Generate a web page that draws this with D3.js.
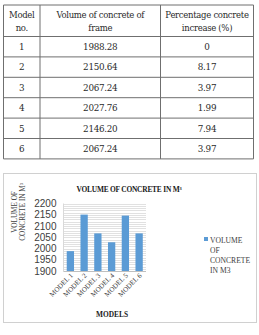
<!DOCTYPE html>
<html>
<head>
<meta charset="utf-8">
<script src="https://cdn.jsdelivr.net/npm/d3@7"></script>
<style>
  body { margin: 0; background: #fff; }
  svg { display: block; }
</style>
</head>
<body>
<div id="chart"></div>
<script>
// Table / chart data
var models = ["1", "2", "3", "4", "5", "6"];
var volumes = [1988.28, 2150.64, 2067.24, 2027.76, 2146.20, 2067.24];
var volumeText = ["1988.28", "2150.64", "2067.24", "2027.76", "2146.20", "2067.24"];
var increases = ["0", "8.17", "3.97", "1.99", "7.94", "3.97"];
var headers = [["Model", "no."], ["Volume of concrete of", "frame"], ["Percentage concrete", "increase (%)"]];
var xLabels = ["MODEL 1", "MODEL 2", "MODEL 3", "MODEL 4", "MODEL 5", "MODEL 6"];
var yTicks = [1900, 1950, 2000, 2050, 2100, 2150, 2200];
var legendLines = ["VOLUME", "OF", "CONCRETE", "IN M3"];

var svgWidth = 259;
var svgHeight = 335;

var svg = d3.select("#chart")
  .append("svg")
  .attr("width", svgWidth)
  .attr("height", svgHeight);

svg.append("rect")
  .attr("width", svgWidth)
  .attr("height", svgHeight)
  .attr("fill", "#fff");

// ---------------------------------------- //
// TABLE
var colX = [3.5, 40, 160.5, 253.5];
var tableTop = 5;
var headerH = 31.5;
var rowH = 20.4;
var tableBottom = tableTop + headerH + rowH * models.length;
var serif = "'Liberation Serif', 'Times New Roman', serif";
var tableFont = "'DejaVu Serif', serif";
var lineColor = "#6f6f6f";

var table = svg.append("g");

// horizontal lines
var rowLines = [tableTop, tableTop + headerH];
models.forEach((m, i) => rowLines.push(tableTop + headerH + rowH * (i + 1)));
table.selectAll(".hline")
  .data(rowLines)
  .enter()
  .append("line")
  .attr("x1", colX[0])
  .attr("x2", colX[3])
  .attr("y1", d => d)
  .attr("y2", d => d)
  .attr("stroke", lineColor)
  .attr("stroke-width", 1);

// vertical lines
table.selectAll(".vline")
  .data(colX)
  .enter()
  .append("line")
  .attr("x1", d => d)
  .attr("x2", d => d)
  .attr("y1", tableTop)
  .attr("y2", tableBottom)
  .attr("stroke", lineColor)
  .attr("stroke-width", 1);

// header text
headers.forEach((lines, c) => {
  var cx = (colX[c] + colX[c + 1]) / 2;
  lines.forEach((t, k) => {
    table.append("text")
      .attr("x", cx)
      .attr("y", tableTop + 13 + k * 13)
      .attr("text-anchor", "middle")
      .attr("font-family", tableFont)
      .attr("font-size", "8.5px")
      .attr("letter-spacing", "-0.3px")
      .attr("fill", "#2b2b2b")
      .text(t);
  });
});

// body rows
models.forEach((m, i) => {
  var y = tableTop + headerH + rowH * i + rowH / 2 + 3.3;
  var cells = [m, volumeText[i], increases[i]];
  cells.forEach((t, c) => {
    table.append("text")
      .attr("x", (colX[c] + colX[c + 1]) / 2)
      .attr("y", y)
      .attr("text-anchor", "middle")
      .attr("font-family", tableFont)
      .attr("font-size", "8.8px")
      .attr("letter-spacing", "-0.3px")
      .attr("fill", "#2b2b2b")
      .text(t);
  });
});

// ---------------------------------------- //
// CHART
svg.append("rect")
  .attr("x", 3.5)
  .attr("y", 173.5)
  .attr("width", 253)
  .attr("height", 149)
  .attr("fill", "#fff")
  .attr("stroke", "#d0d0d0");

var plot = { left: 63.5, right: 146, top: 203.5, bottom: 271 };

var xScale = d3.scaleBand()
  .domain(xLabels)
  .range([plot.left, plot.right])
  .paddingInner(0.47)
  .paddingOuter(0.235);

var yScale = d3.scaleLinear()
  .domain([1900, 2200])
  .range([plot.bottom, plot.top]);

// minor gridlines every 10
var gridGroup = svg.append("g");
gridGroup.selectAll("line")
  .data(d3.range(1900, 2201, 10))
  .enter()
  .append("line")
  .attr("x1", plot.left)
  .attr("x2", plot.right)
  .attr("y1", d => Math.round(yScale(d)) + 0.5)
  .attr("y2", d => Math.round(yScale(d)) + 0.5)
  .attr("stroke", "#d9d9d9")
  .attr("stroke-width", 0.8);

svg.append("line")
  .attr("x1", plot.left)
  .attr("x2", plot.left)
  .attr("y1", plot.top)
  .attr("y2", plot.bottom)
  .attr("stroke", "#d9d9d9");

// bars
svg.selectAll(".bar")
  .data(volumes)
  .enter()
  .append("rect")
  .attr("class", "bar")
  .attr("x", (d, i) => xScale(xLabels[i]))
  .attr("width", xScale.bandwidth())
  .attr("y", d => yScale(d))
  .attr("height", d => yScale(1900) - yScale(d))
  .attr("fill", "#5b9bd5");

// bottom axis line
svg.append("line")
  .attr("x1", plot.left)
  .attr("x2", plot.right)
  .attr("y1", plot.bottom + 0.5)
  .attr("y2", plot.bottom + 0.5)
  .attr("stroke", "#bfbfbf");

// y axis
var leftAxis = d3.axisLeft(yScale)
  .tickValues(yTicks)
  .tickSize(0)
  .tickPadding(7)
  .tickFormat(d3.format("d"));
var yAxis = svg.append("g")
  .attr("transform", `translate(${plot.left}, 0)`)
  .call(leftAxis);
yAxis.select(".domain").remove();
yAxis.selectAll("text")
  .attr("font-family", "'Liberation Sans', Arial, sans-serif")
  .attr("font-size", "10px")
  .attr("fill", "#404040");

// x labels rotated
var bottomAxis = d3.axisBottom(xScale).tickSize(0).tickPadding(0);
var xAxis = svg.append("g")
  .attr("transform", `translate(0, ${plot.bottom})`)
  .call(bottomAxis);
xAxis.select(".domain").remove();
xAxis.selectAll("text")
  .attr("font-family", serif)
  .attr("font-size", "7px")
  .attr("fill", "#404040")
  .attr("text-anchor", "end")
  .attr("dy", 0)
  .attr("y", 0)
  .attr("transform", "translate(3, 5) rotate(-45)");

// title
svg.append("text")
  .attr("x", 129)
  .attr("y", 192)
  .attr("text-anchor", "middle")
  .attr("font-family", serif)
  .attr("font-weight", "bold")
  .attr("font-size", "7.4px")
  .attr("letter-spacing", "-0.2px")
  .attr("fill", "#1a1a1a")
  .text("VOLUME OF CONCRETE IN M³");

// y axis title
var yTitle = svg.append("text")
  .attr("transform", "translate(17, 212) rotate(-90)")
  .attr("text-anchor", "middle")
  .attr("font-family", serif)
  .attr("font-size", "7.2px")
  .attr("fill", "#404040");
yTitle.append("tspan").attr("x", 0).attr("dy", 0).text("VOLUME OF");
yTitle.append("tspan").attr("x", 0).attr("dy", 8).text("CONCRETE IN M³");

// x axis title
svg.append("text")
  .attr("x", 112)
  .attr("y", 317)
  .attr("text-anchor", "middle")
  .attr("font-family", serif)
  .attr("font-weight", "bold")
  .attr("font-size", "7.4px")
  .attr("fill", "#1a1a1a")
  .text("MODELS");

// legend
svg.append("rect")
  .attr("x", 204)
  .attr("y", 237)
  .attr("width", 4)
  .attr("height", 4)
  .attr("fill", "#5b9bd5");
svg.append("g")
  .selectAll("text")
  .data(legendLines)
  .enter()
  .append("text")
  .attr("x", 210)
  .attr("y", (d, i) => 243 + i * 10)
  .attr("font-family", serif)
  .attr("font-size", "7.6px")
  .attr("fill", "#404040")
  .text(d => d);
</script>
</body>
</html>
